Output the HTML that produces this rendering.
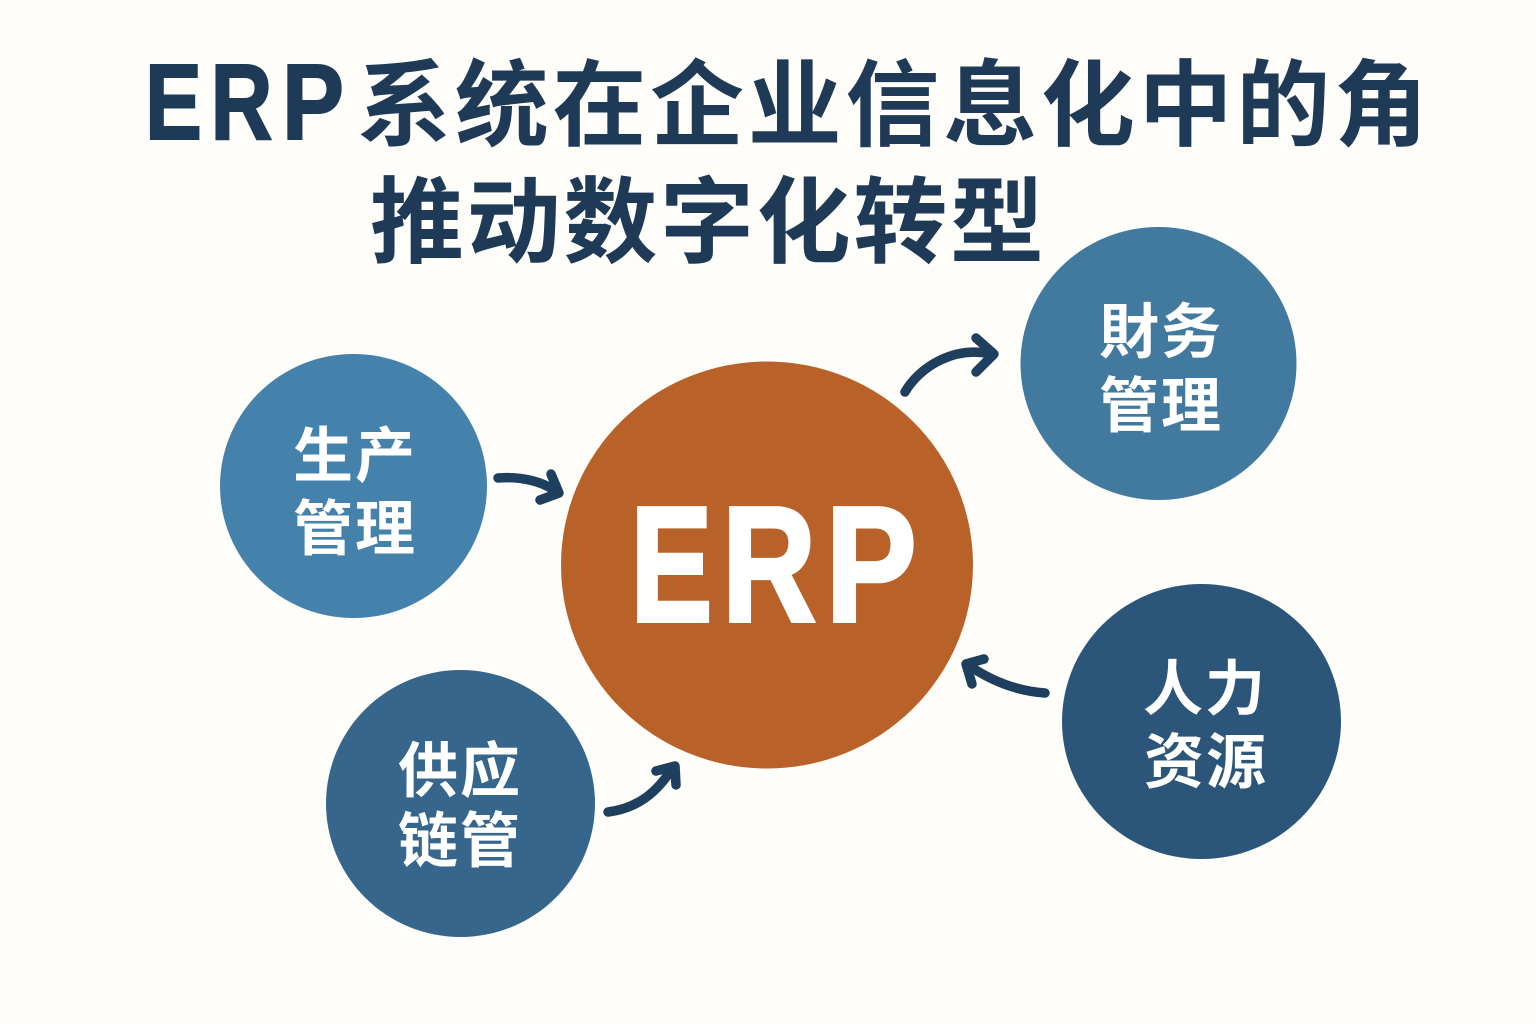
<!DOCTYPE html>
<html lang="zh">
<head>
<meta charset="utf-8">
<style>
html,body{margin:0;padding:0;background:#fefdf9;}
svg{display:block;}
text{font-family:"Liberation Sans","Noto Sans CJK SC",sans-serif;font-weight:700;}
</style>
</head>
<body>
<svg width="1536" height="1024" viewBox="0 0 1536 1024" xmlns="http://www.w3.org/2000/svg">
<rect width="1536" height="1024" fill="#fefdf9"/>
<g fill="#1f3a56">
<g font-size="108" stroke="#1f3a56" stroke-width="2">
<text x="145" y="139" textLength="57" lengthAdjust="spacingAndGlyphs">E</text>
<text x="210.5" y="139" textLength="62" lengthAdjust="spacingAndGlyphs">R</text>
<text x="282" y="139" textLength="62" lengthAdjust="spacingAndGlyphs">P</text>
</g>
<g font-size="94">
<text x="357" y="138" textLength="1071" lengthAdjust="spacing">系统在企业信息化中的角</text>
<text x="370" y="255" textLength="674" lengthAdjust="spacing">推动数字化转型</text>
</g>
</g>
<ellipse cx="767" cy="565" rx="206" ry="203.5" fill="#b86229"/>
<ellipse cx="353.5" cy="486" rx="133.5" ry="132" fill="#4482ab"/>
<ellipse cx="1158.5" cy="363.5" rx="138" ry="136.5" fill="#41799f"/>
<ellipse cx="460.5" cy="803.5" rx="134.5" ry="133.5" fill="#36668c"/>
<ellipse cx="1201.5" cy="721.5" rx="139.5" ry="137.5" fill="#2c5679"/>
<g font-size="164" fill="#fff" stroke="#fff" stroke-width="4" stroke-linejoin="miter">
<text x="630.4" y="621" textLength="82" lengthAdjust="spacingAndGlyphs">E</text>
<text x="722" y="621" textLength="94" lengthAdjust="spacingAndGlyphs">R</text>
<text x="825.6" y="621" textLength="91" lengthAdjust="spacingAndGlyphs">P</text>
</g>
<g fill="#fff" font-size="60">
<text x="293" y="477" textLength="122" lengthAdjust="spacing">生产</text>
<text x="293" y="550" textLength="122" lengthAdjust="spacing">管理</text>
<text x="1099" y="353" textLength="122" lengthAdjust="spacing">財务</text>
<text x="1099" y="427" textLength="122" lengthAdjust="spacing">管理</text>
<text x="398" y="792" textLength="122" lengthAdjust="spacing">供应</text>
<text x="398" y="862" textLength="122" lengthAdjust="spacing">链管</text>
<text x="1143" y="710" textLength="122" lengthAdjust="spacing">人力</text>
<text x="1144" y="783" textLength="122" lengthAdjust="spacing">资源</text>
</g>
<g fill="none" stroke="#1f3f5e" stroke-width="9.5" stroke-linecap="round" stroke-linejoin="round">
<path d="M905 392 C920 366 955 346 990 354"/>
<path d="M976 338 L994 354 L976 372"/>
<path d="M1045 693 C1015 691 990 680 968 665"/>
<path d="M984 659 L966 664 L972 684"/>
<path d="M608 812 C640 808 658 790 672 769"/>
<path d="M656 771 L675 766 L676 785"/>
<path d="M498 478 C522 476 542 482 554 490"/>
<path d="M551 474 L559 493 L540 500"/>
</g>
</svg>
</body>
</html>
